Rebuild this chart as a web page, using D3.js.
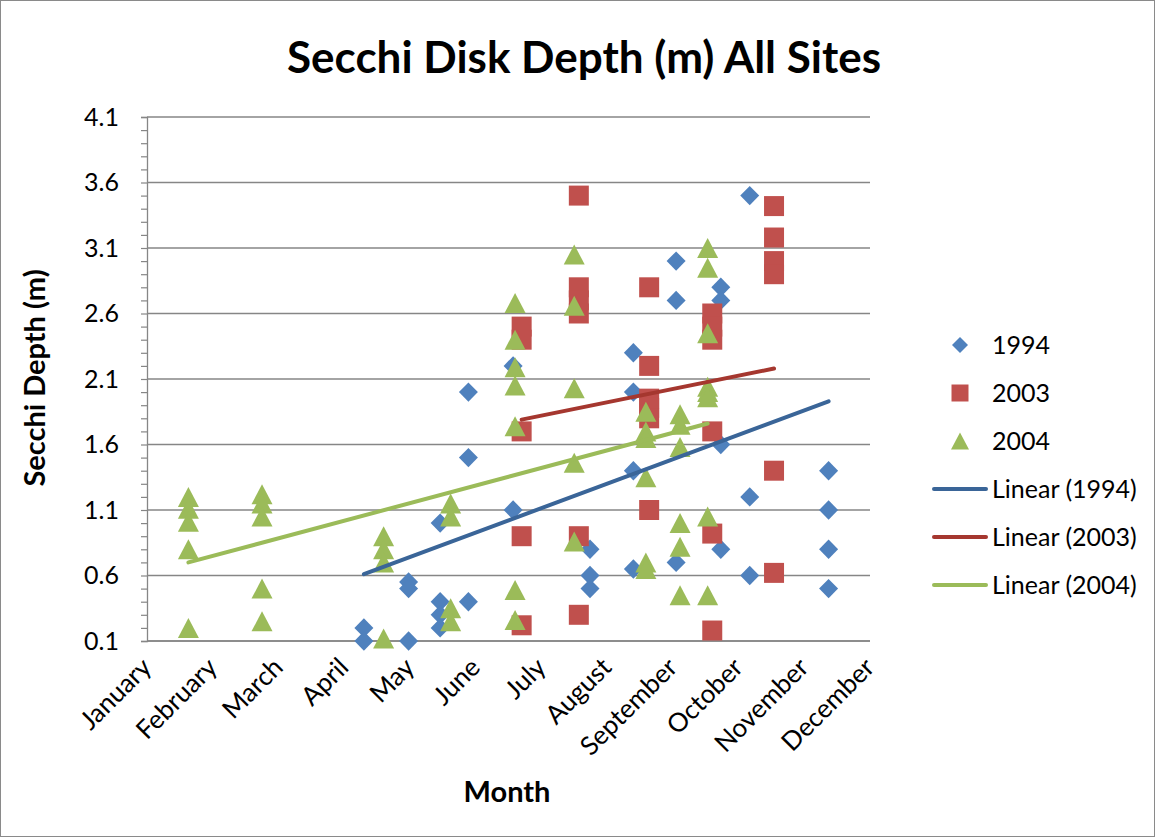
<!DOCTYPE html>
<meta charset="utf-8">
<script src="https://d3js.org/d3.v7.min.js"></script>
<style>
  body { margin: 0; background: #fff; }
  text { font-family: Lato, "Open Sans", sans-serif; fill: #000; }
</style>
<body>
<div id="chart"></div>
<script>
  // month labels on the x axis (one per major unit)
  const months = ["January", "February", "March", "April", "May", "June",
    "July", "August", "September", "October", "November", "December"];
  const yTicks = [0.1, 0.6, 1.1, 1.6, 2.1, 2.6, 3.1, 3.6, 4.1];

  // sampling positions (in month units) and the depths measured there
  const x1994 = [3.30, 3.98, 4.46, 4.89, 5.57, 6.74, 7.40, 8.05, 8.73, 9.17, 10.37];
  const d1994 = [[0.2, 0.1], [0.55, 0.5, 0.1], [1.0, 0.4, 0.3, 0.2], [2.0, 1.5, 0.4],
    [2.2, 1.1], [0.8, 0.6, 0.5], [2.3, 2.0, 1.4, 0.65], [3.0, 2.7, 0.7],
    [2.8, 2.7, 1.6, 0.8], [3.5, 1.2, 0.6], [1.4, 1.1, 0.8, 0.5]];

  const x2003 = [5.70, 6.57, 7.64, 8.60, 9.54];
  const d2003 = [[2.5, 2.4, 1.7, 0.9, 0.22], [3.5, 2.8, 2.7, 2.6, 0.9, 0.3],
    [2.8, 2.2, 1.95, 1.88, 1.8, 1.1], [2.6, 2.5, 2.4, 1.7, 0.92, 0.18],
    [3.42, 3.18, 3.0, 2.9, 1.4, 0.62]];

  const x2004 = [0.63, 1.75, 3.60, 4.62, 5.60, 6.50, 7.59, 8.11, 8.53];
  const d2004 = [[1.2, 1.11, 1.01, 0.8, 0.2], [1.22, 1.15, 1.05, 0.5, 0.25],
    [0.9, 0.8, 0.7, 0.12], [1.15, 1.05, 0.35, 0.25],
    [2.68, 2.4, 2.19, 2.05, 1.74, 0.49, 0.26], [3.05, 2.66, 2.03, 1.46, 0.86],
    [1.85, 1.7, 1.65, 1.35, 0.7, 0.65], [1.83, 1.75, 1.58, 1.0, 0.82, 0.45],
    [3.1, 2.95, 2.45, 2.04, 2.0, 1.96, 1.05, 0.45]];

  // linear trendline end points (as shown by the spreadsheet)
  const trend1994 = [[3.30, 0.61], [10.37, 1.93]];
  const trend2003 = [[5.70, 1.79], [9.54, 2.18]];
  const trend2004 = [[0.63, 0.70], [8.53, 1.76]];

  const W = 1157, H = 839;
  const svg = d3.select("#chart").append("svg")
    .attr("width", W).attr("height", H);

  svg.append("rect")
    .attr("x", 0.5).attr("y", 0.5).attr("width", W - 3).attr("height", H - 3)
    .attr("fill", "#fff").attr("stroke", "#8a8a8a");

  const x = d3.scaleLinear().domain([0, 11]).range([147, 870]);
  const y = d3.scaleLinear().domain([0.1, 4.1]).range([641, 117]);

  // gridlines
  svg.append("g")
    .selectAll("line")
    .data(yTicks)
    .join("line")
    .attr("x1", x(0)).attr("x2", x(11))
    .attr("y1", d => y(d)).attr("y2", d => y(d))
    .attr("stroke", "#868686").attr("stroke-width", 1.3);

  // y axis with minor ticks
  const minor = d3.range(1, 41).map(i => 0.1 + i * 0.1);
  const yAxis = svg.append("g").attr("transform", `translate(${x(0)},0)`)
    .call(d3.axisLeft(y).tickValues([0.1].concat(minor)).tickSize(6).tickFormat(""));
  yAxis.select(".domain").attr("stroke", "#868686").attr("stroke-width", 1.3);
  yAxis.selectAll(".tick line").attr("stroke", "#868686").attr("stroke-width", 1.2);

  svg.append("g")
    .selectAll("text")
    .data(yTicks)
    .join("text")
    .attr("x", 119).attr("y", d => y(d))
    .attr("dy", "0.35em")
    .attr("text-anchor", "end")
    .style("font-size", "25px")
    .text(d => d.toFixed(1));

  // x axis
  svg.append("line")
    .attr("x1", x(0)).attr("x2", x(11))
    .attr("y1", y(0.1)).attr("y2", y(0.1))
    .attr("stroke", "#868686").attr("stroke-width", 1.3);

  svg.append("g")
    .selectAll("text")
    .data(months)
    .join("text")
    .attr("transform", (d, i) => `translate(${x(i) + 6},${y(0.1) + 28}) rotate(-45)`)
    .attr("text-anchor", "end")
    .style("font-size", "26px")
    .text(d => d);

  // markers
  const diamond = "M0,-9.7L9.5,0L0,9.7L-9.5,0Z";
  const square = "M-10,-10H10V10H-10Z";
  const triangle = "M0,-10L10.5,10L-10.5,10Z";

  function flat(xs, ds) {
    const out = [];
    xs.forEach((m, i) => ds[i].forEach(v => out.push([m, v])));
    return out;
  }

  const series = [
    { name: "1994", pts: flat(x1994, d1994), path: diamond, color: "#4F81BD" },
    { name: "2003", pts: flat(x2003, d2003), path: square, color: "#C0504D" },
    { name: "2004", pts: flat(x2004, d2004), path: triangle, color: "#9BBB59" }
  ];

  series.forEach(s => {
    svg.append("g")
      .selectAll("path")
      .data(s.pts)
      .join("path")
      .attr("d", s.path)
      .attr("transform", d => `translate(${x(d[0])},${y(d[1])})`)
      .attr("fill", s.color);
  });

  // trendlines
  const trends = [
    { name: "Linear (1994)", pts: trend1994, color: "#3A6598" },
    { name: "Linear (2003)", pts: trend2003, color: "#A5372F" },
    { name: "Linear (2004)", pts: trend2004, color: "#9BBB59" }
  ];
  const line = d3.line().x(d => x(d[0])).y(d => y(d[1]));
  trends.forEach(t => {
    svg.append("path")
      .attr("d", line(t.pts))
      .attr("fill", "none")
      .attr("stroke", t.color)
      .attr("stroke-width", 4)
      .attr("stroke-linecap", "round");
  });

  // titles
  svg.append("text")
    .attr("x", 584).attr("y", 73)
    .attr("text-anchor", "middle")
    .style("font-size", "44px").style("font-weight", "bold")
    .text("Secchi Disk Depth (m) All Sites");

  svg.append("text")
    .attr("x", 507).attr("y", 802)
    .attr("text-anchor", "middle")
    .style("font-size", "29px").style("font-weight", "bold")
    .text("Month");

  svg.append("text")
    .attr("transform", "translate(45,378) rotate(-90)")
    .attr("text-anchor", "middle")
    .style("font-size", "29px").style("font-weight", "bold")
    .text("Secchi Depth (m)");

  // legend
  const legend = svg.append("g");
  const rowY = [345, 393, 441, 489, 537, 585];
  const legendPaths = ["M0,-8L8,0L0,8L-8,0Z", "M-8.5,-8.5H8.5V8.5H-8.5Z", "M0,-8.5L9,8.5L-9,8.5Z"];
  series.forEach((s, i) => {
    legend.append("path")
      .attr("d", legendPaths[i])
      .attr("transform", `translate(960,${rowY[i]})`)
      .attr("fill", s.color);
    legend.append("text")
      .attr("x", 992).attr("y", rowY[i]).attr("dy", "0.35em")
      .style("font-size", "25px")
      .text(s.name);
  });
  trends.forEach((t, i) => {
    legend.append("line")
      .attr("x1", 934).attr("x2", 986)
      .attr("y1", rowY[i + 3]).attr("y2", rowY[i + 3])
      .attr("stroke", t.color).attr("stroke-width", 4)
      .attr("stroke-linecap", "round");
    legend.append("text")
      .attr("x", 992).attr("y", rowY[i + 3]).attr("dy", "0.35em")
      .style("font-size", "25px")
      .text(t.name);
  });
</script>
</body>
